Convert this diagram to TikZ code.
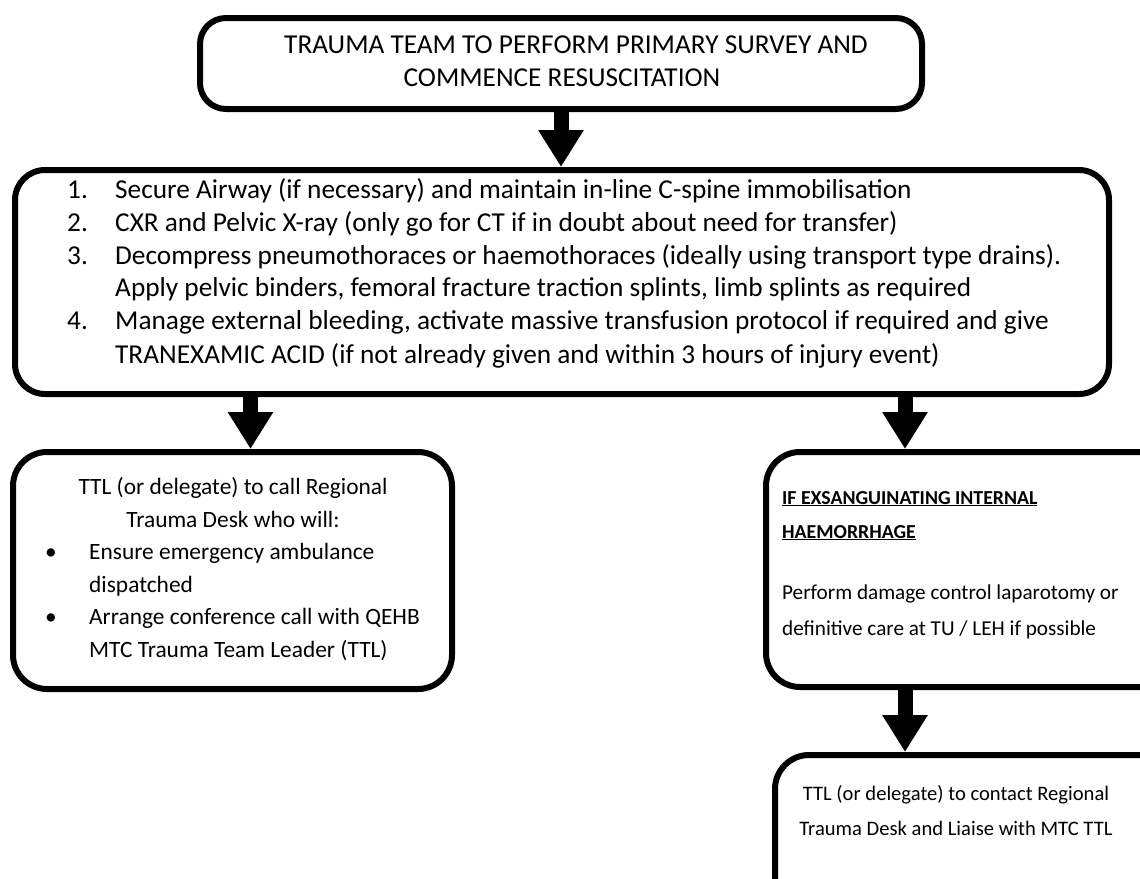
\documentclass[tikz,border=0pt]{standalone}
\usepackage{fontspec}
\setmainfont{Carlito}
\usetikzlibrary{arrows.meta}
\tikzset{
  box/.style={draw=black, line width=6pt, rounded corners=30pt, fill=white, inner sep=0pt, anchor=north west},
  txt/.style={inner sep=0pt, font=\fontsize{20.6}{24}\selectfont},
  bigtxt/.style={inner sep=0pt, font=\fontsize{27.3}{32}\selectfont},
  midtxt/.style={inner sep=0pt, font=\fontsize{23.4}{28}\selectfont},
  rtxt/.style={inner sep=0pt, font=\fontsize{21.2}{25}\selectfont},
  rbold/.style={inner sep=0pt, font=\fontsize{19.8}{24}\selectfont\bfseries},
  bigarrow/.style={draw=black, line width=15pt, -{Triangle[length=37pt,width=43pt]}}
}
\begin{document}
\begin{tikzpicture}[x=1pt,y=-1pt]
\useasboundingbox (0,0) rectangle (1140,878);
\clip (0,0) rectangle (1140,878);
% boxes
\node[box, minimum width=722pt, minimum height=91pt, rounded corners=26pt] (top) at (197,15) {};
\node[box, minimum width=1094pt, minimum height=224pt] (main) at (12,167) {};
\node[box, minimum width=439pt, minimum height=237pt, rounded corners=34pt] (lbox) at (10,449) {};
\node[box, minimum width=420pt, minimum height=235pt, rounded corners=34pt] (r1) at (763,449) {};
\node[box, minimum width=420pt, minimum height=180pt, rounded corners=34pt] (r2) at (772,752) {};
\coordinate (a3) at ([xshift=142pt]r1.north west);
\coordinate (a2) at ([xshift=18pt]lbox.north);
% arrows
\draw[bigarrow] (top.south) -- (top.south |- main.north);
\draw[bigarrow] (main.south -| a2) -- (a2);
\draw[bigarrow] (main.south -| a3) -- (a3);
\draw[bigarrow] (r1.south -| a3) -- (r2.north -| a3);
% top text
\node[bigtxt, anchor=base] (t1) at (576,53) {TRAUMA TEAM TO PERFORM PRIMARY SURVEY AND};
\node[bigtxt, anchor=base] (t2) at (562,86) {COMMENCE RESUSCITATION};
% main text
\node[bigtxt, anchor=base west] (n1) at (67,198) {1.};
\node[bigtxt, anchor=base west] (m1) at (115,198) {Secure Airway (if necessary) and maintain in-line C-spine immobilisation};
\node[bigtxt, anchor=base west] (n2) at (67,231) {2.};
\node[bigtxt, anchor=base west] (m2) at (115,231) {CXR and Pelvic X-ray (only go for CT if in doubt about need for transfer)};
\node[bigtxt, anchor=base west] (n3) at (67,264) {3.};
\node[bigtxt, anchor=base west] (m3) at (115,264) {Decompress pneumothoraces or haemothoraces (ideally using transport type drains).};
\node[bigtxt, anchor=base west] (m3b) at (115,296) {Apply pelvic binders, femoral fracture traction splints, limb splints as required};
\node[bigtxt, anchor=base west] (n4) at (67,329) {4.};
\node[bigtxt, anchor=base west] (m4) at (115,329) {Manage external bleeding, activate massive transfusion protocol if required and give};
\node[bigtxt, anchor=base west] (m4b) at (115,363) {TRANEXAMIC ACID (if not already given and within 3 hours of injury event)};
% left box text
\node[midtxt, anchor=base] (l1) at (233,494) {TTL (or delegate) to call Regional};
\node[midtxt, anchor=base] (l2) at (233,527) {Trauma Desk who will:};
\node[midtxt, anchor=base west] (b1) at (45,559) {•};
\node[midtxt, anchor=base west] (l3) at (89,559) {Ensure emergency ambulance};
\node[midtxt, anchor=base west] (l4) at (89,592) {dispatched};
\node[midtxt, anchor=base west] (b2) at (45,624) {•};
\node[midtxt, anchor=base west] (l5) at (89,624) {Arrange conference call with QEHB};
\node[midtxt, anchor=base west] (l6) at (89,657) {MTC Trauma Team Leader (TTL)};
% right box 1 text
\node[rbold, anchor=base west] (r1a) at (782,504) {\underline{IF EXSANGUINATING INTERNAL}};
\node[rbold, anchor=base west] (r1b) at (782,538) {\underline{HAEMORRHAGE}};
\node[rtxt, anchor=base west] (r1c) at (782,599) {Perform damage control laparotomy or};
\node[rtxt, anchor=base west] (r1d) at (782,635) {definitive care at TU / LEH if possible};
% right box 2 text
\node[txt, anchor=base] (r2a) at (956,800) {TTL (or delegate) to contact Regional};
\node[txt, anchor=base] (r2b) at (956,835) {Trauma Desk and Liaise with MTC TTL};
\end{tikzpicture}
\end{document}
